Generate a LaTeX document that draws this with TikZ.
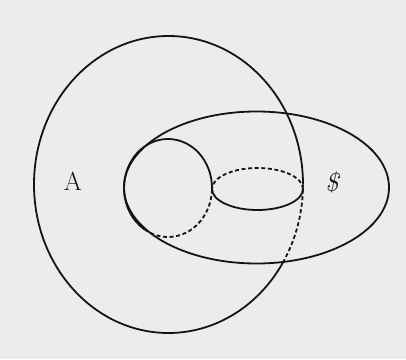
\documentclass[tikz,border=0pt]{standalone}
\definecolor{paper}{RGB}{236,236,236}
\definecolor{ink}{RGB}{20,20,20}
\tikzset{
  curve/.style={line width=1.8pt, draw=ink},
  hidden/.style={curve, dash pattern=on 4pt off 2.6pt},
  lbl/.style={font=\fontsize{26}{28}\selectfont, text=ink, inner sep=0pt}
}
\begin{document}
\begin{tikzpicture}[x=1pt,y=1pt]
  \fill[paper] (0,0) rectangle (406,359);
  \useasboundingbox (0,0) rectangle (406,359);
  % large ellipse A
  \coordinate (cA) at (168.5,174.5);
  \draw[curve]  (cA) ++(0:134.5 and 148.5) arc[start angle=0, end angle=328.2, x radius=134.5, y radius=148.5];
  \draw[hidden] (cA) ++(-31.8:134.5 and 148.5) arc[start angle=-31.8, end angle=0, x radius=134.5, y radius=148.5];
  % horizontal ellipse $
  \coordinate (cS) at (256.5,171.5);
  \draw[curve] (cS) ellipse[x radius=132.5, y radius=76];
  % circle
  \coordinate (cC) at (168,171);
  \draw[curve]  (cC) ++(0:44 and 49) arc[start angle=0, end angle=238, x radius=44, y radius=49];
  \draw[hidden] (cC) ++(238:44 and 49) arc[start angle=238, end angle=360, x radius=44, y radius=49];
  % small ellipse
  \coordinate (cE) at (257.5,170);
  \draw[hidden] (cE) ++(0:45.5 and 21) arc[start angle=0, end angle=180, x radius=45.5, y radius=21];
  \draw[curve]  (cE) ++(180:45.5 and 21) arc[start angle=180, end angle=360, x radius=45.5, y radius=21];
  % labels
  \node[lbl] (labA) at (73,178) {A};
  \node[lbl] (labS) at (333,177) {\textit{\$}};
\end{tikzpicture}
\end{document}
